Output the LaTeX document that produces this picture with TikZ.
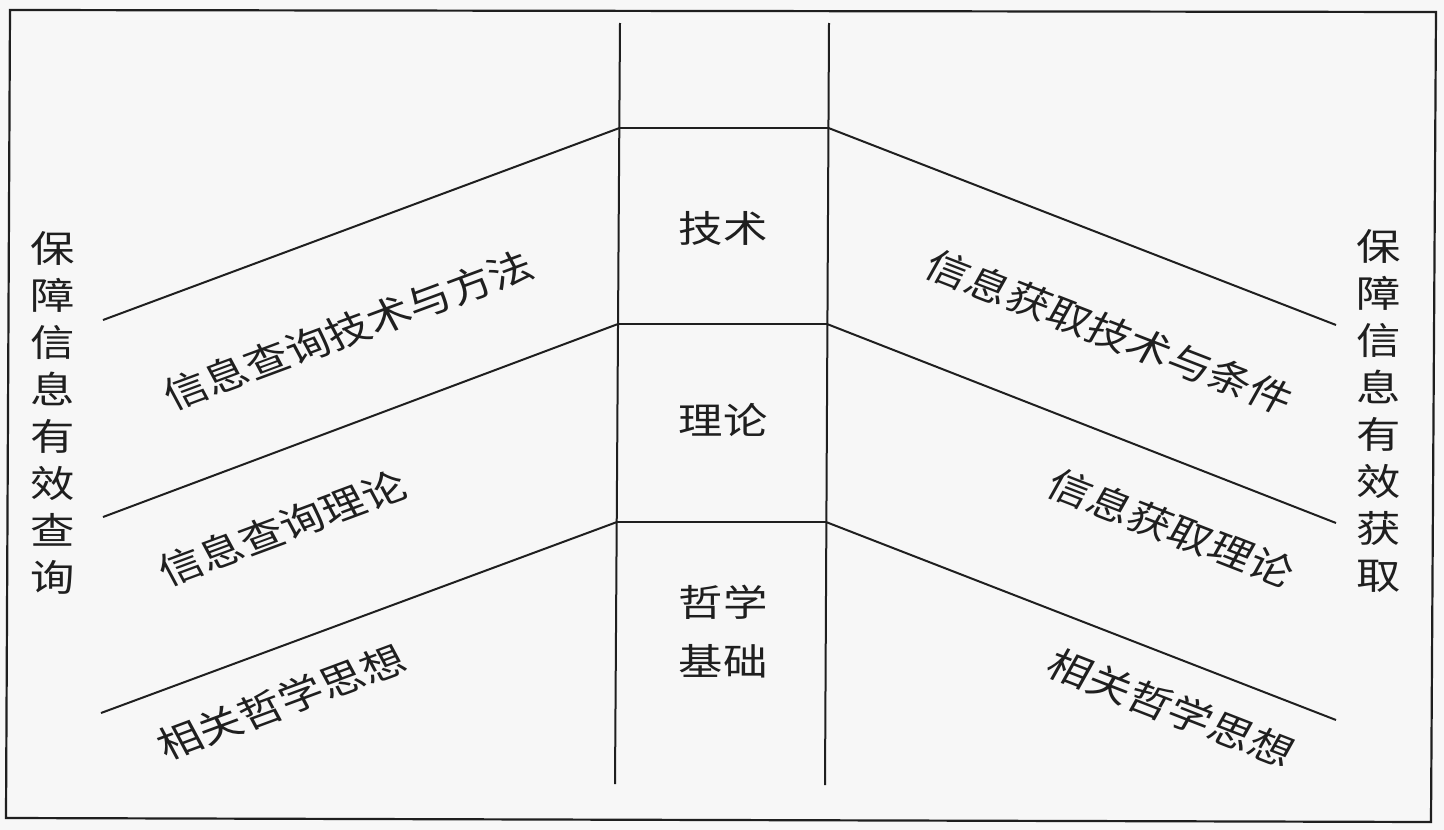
\documentclass[tikz,border=0pt]{standalone}
\usepackage{fontspec}
\usepackage{graphicx}
\newfontfamily\cjk{Noto Sans CJK SC}
\newcommand{\sxt}[1]{\scalebox{1.2}[1]{#1}}
\newcommand{\rtx}[2]{\scalebox{1.2}[1]{\rotatebox{#1}{#2}}}
\newcommand{\colstack}[1]{\scalebox{1.2}[1]{\begin{tabular}{@{}c@{}}#1\end{tabular}}}
\begin{document}
\begin{tikzpicture}[x=1pt,y=-1pt,
  lbl/.style={font=\cjk\fontsize{37}{47}\selectfont, inner sep=0pt, text=black!88},
  lbltwo/.style={font=\cjk\fontsize{37}{59}\selectfont, inner sep=0pt, text=black!88},
  frame/.style={line width=2.2pt, draw=black!88},
  rule/.style={line width=2pt, draw=black!88}]
\fill[black!3] (0,0) rectangle (1444,830);
\useasboundingbox (0,0) rectangle (1444,830);
% frame
\coordinate (FTL) at (10,10);
\coordinate (FTR) at (1436,12);
\coordinate (FBR) at (1431,822);
\coordinate (FBL) at (6,818);
\draw[frame] (FTL) -- (FTR) -- (FBR) -- (FBL) -- cycle;
% central column
\coordinate (LT) at (620,23);
\coordinate (LB) at (615,784);
\coordinate (RT) at (829,23);
\coordinate (RB) at (825,785);
\coordinate (L1) at (619.5,128);
\coordinate (R1) at (828.5,128);
\coordinate (L2) at (618,324);
\coordinate (R2) at (827,324);
\coordinate (L3) at (617,522);
\coordinate (R3) at (826,522);
\draw[rule] (LT) -- (LB);
\draw[rule] (RT) -- (RB);
\draw[rule] (L1) -- (R1);
\draw[rule] (L2) -- (R2);
\draw[rule] (L3) -- (R3);
% wings
\coordinate (A1) at (103,320);
\coordinate (A2) at (103,517);
\coordinate (A3) at (101,713);
\coordinate (B1) at (1336,325);
\coordinate (B2) at (1336,523);
\coordinate (B3) at (1336,720);
\draw[rule] (A1) -- (L1);
\draw[rule] (A2) -- (L2);
\draw[rule] (A3) -- (L3);
\draw[rule] (R1) -- (B1);
\draw[rule] (R2) -- (B2);
\draw[rule] (R3) -- (B3);
% side titles
\node[lbl] (lefttitle) at (53,418) {\colstack{保\\障\\信\\息\\有\\效\\查\\询}};
\node[lbl] (righttitle) at (1379,416) {\colstack{保\\障\\信\\息\\有\\效\\获\\取}};
% centre labels
\node[lbl] (tech) at (723,228) {\sxt{技术}};
\node[lbl] (theory) at (723,420) {\sxt{理论}};
\node[lbltwo] (phil) at (723,634) {\colstack{哲学\\基础}};
% left slanted labels
\node[lbl] (ql1) at (348,330) {\rtx{24}{信息查询技术与方法}};
\node[lbl] (ql2) at (282,528) {\rtx{24}{信息查询理论}};
\node[lbl] (ql3) at (281,702) {\rtx{24}{相关哲学思想}};
% right slanted labels
\node[lbl] (gr1) at (1110,332) {\rtx{-25}{信息获取技术与条件}};
\node[lbl] (gr2) at (1171,528) {\rtx{-25}{信息获取理论}};
\node[lbl] (gr3) at (1171,708) {\rtx{-25}{相关哲学思想}};
\end{tikzpicture}
\end{document}
